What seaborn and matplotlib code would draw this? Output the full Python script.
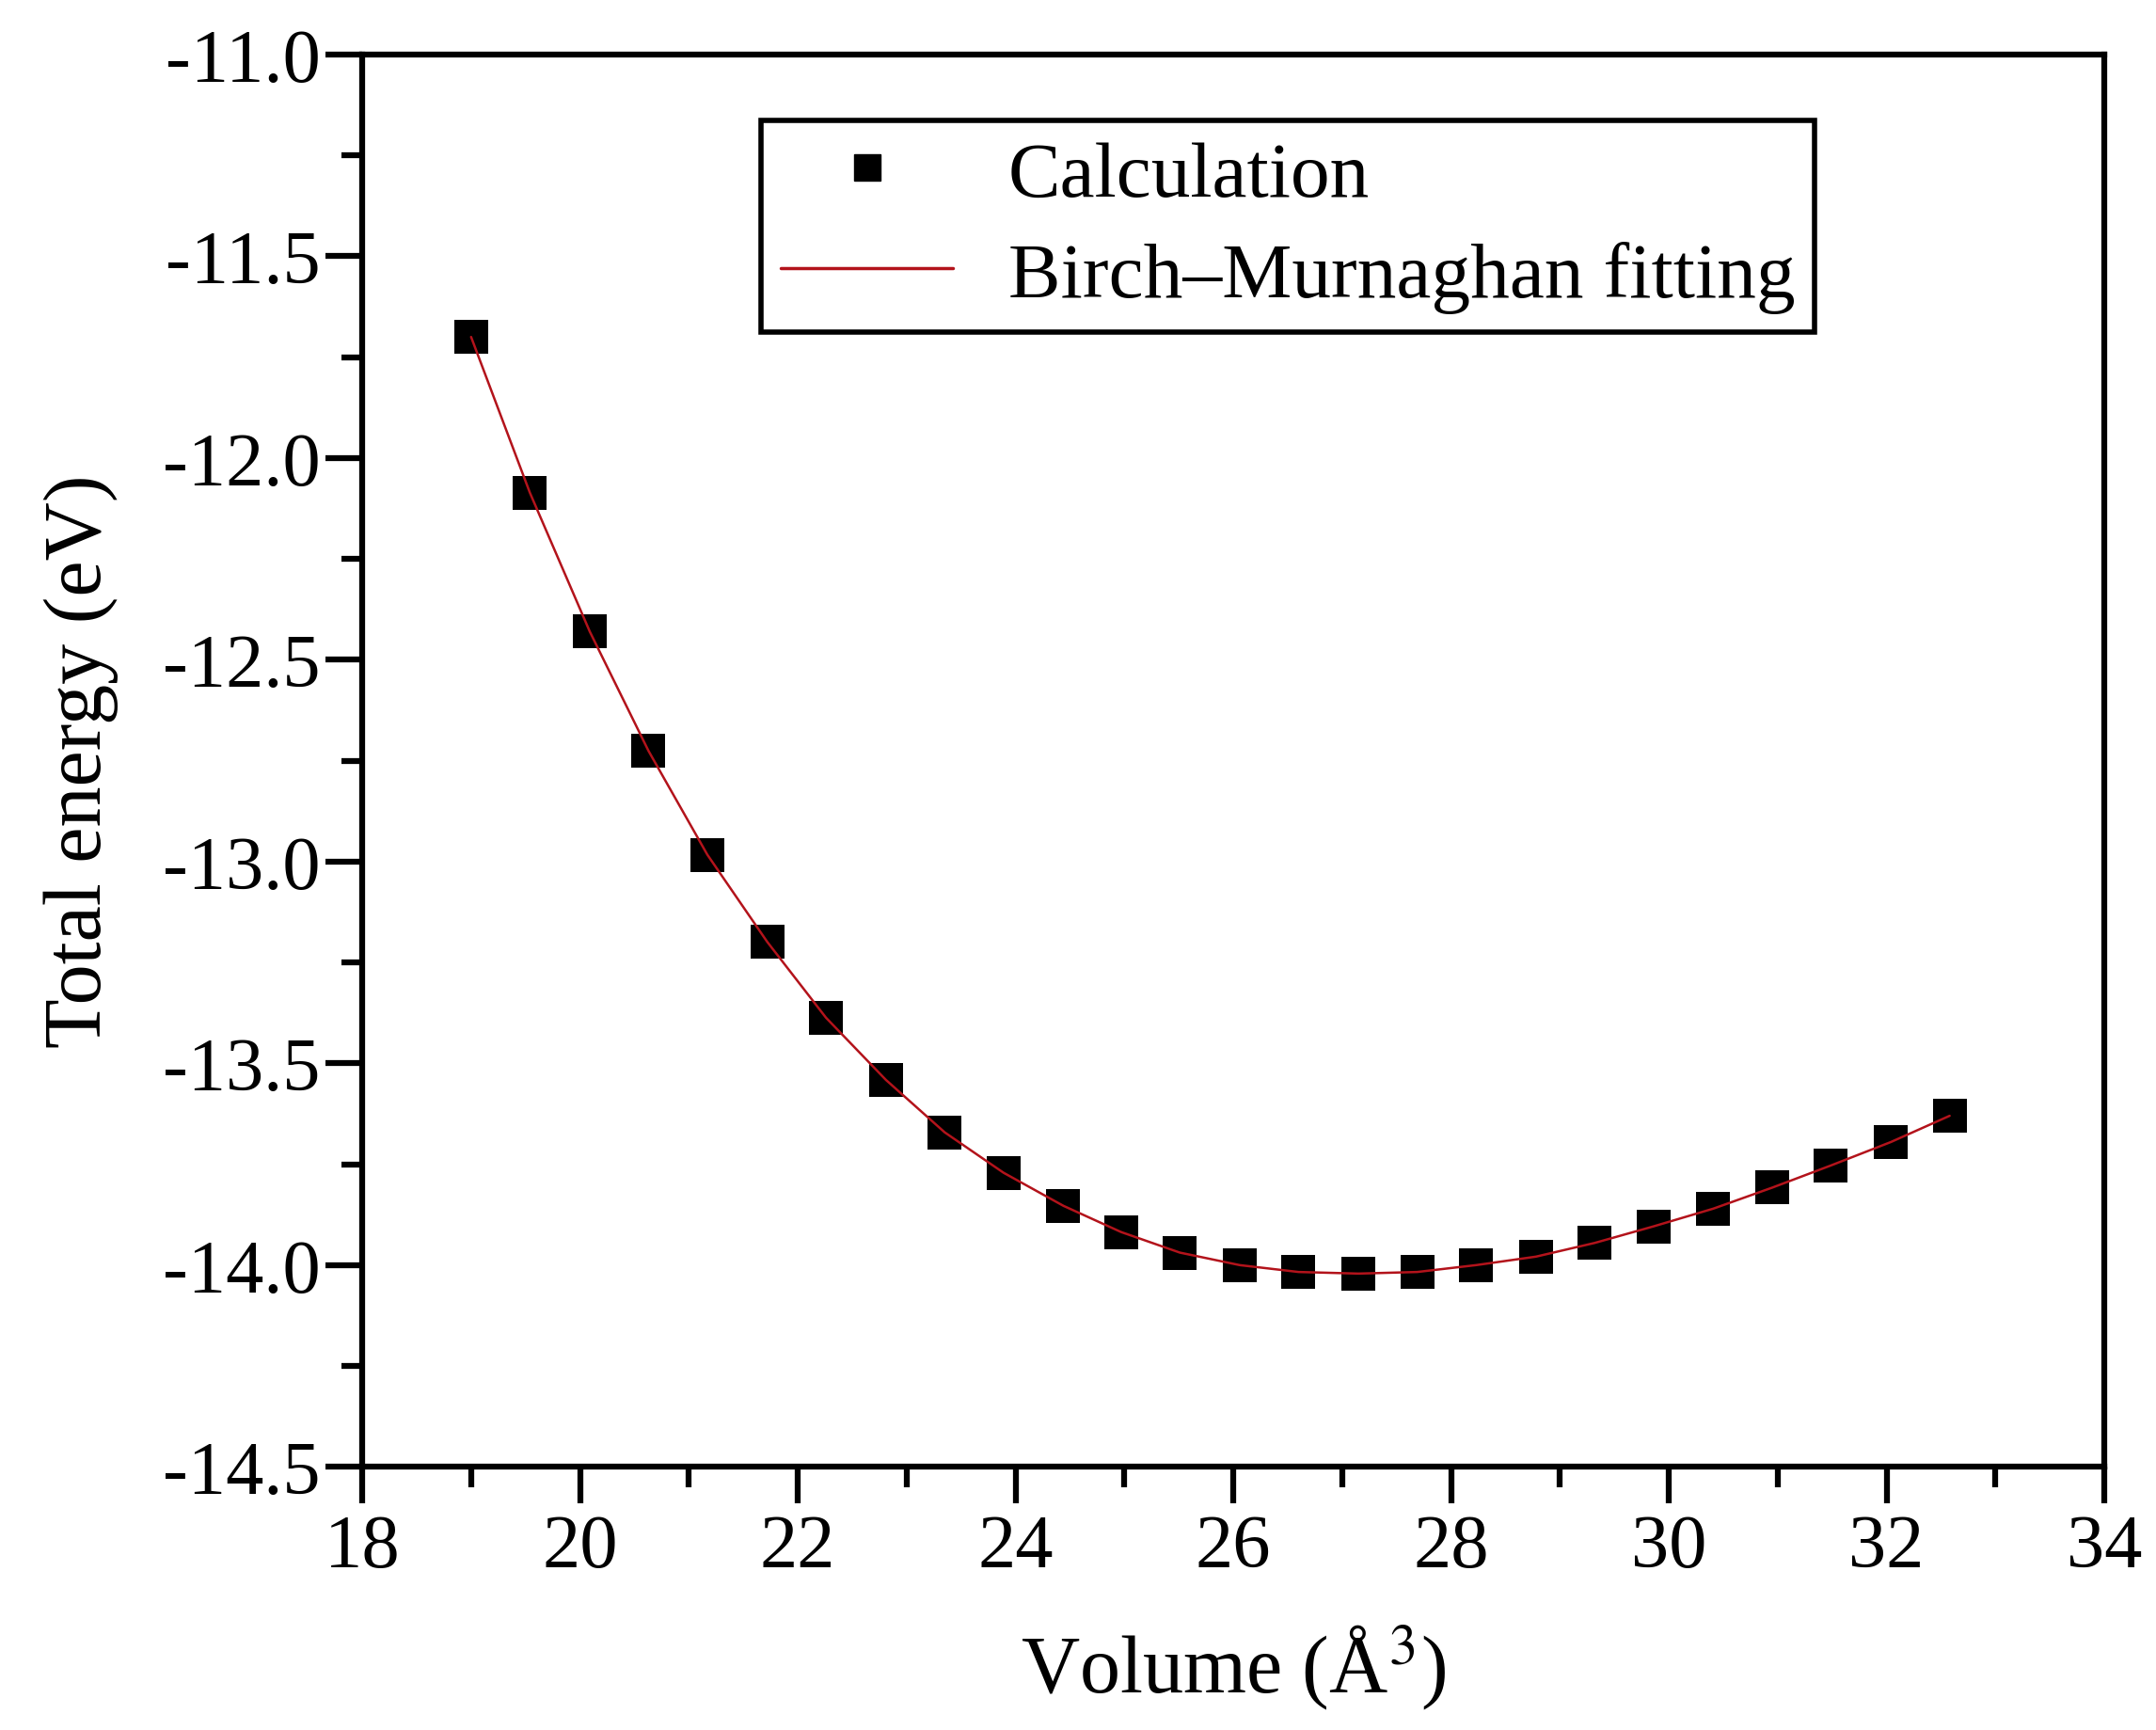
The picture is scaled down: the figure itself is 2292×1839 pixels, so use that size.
import numpy as np
import pandas as pd
import seaborn as sns
import matplotlib.pyplot as plt
from matplotlib.ticker import MultipleLocator
from matplotlib.lines import Line2D

# Values
volume = [19.00, 19.54, 20.09, 20.63, 21.17, 21.72, 22.26, 22.81, 23.35, 23.89,
          24.44, 24.97, 25.51, 26.06, 26.60, 27.15, 27.69, 28.23, 28.78, 29.32,
          29.86, 30.41, 30.95, 31.49, 32.04, 32.58]
energy = [-11.700, -12.086, -12.430, -12.726, -12.983, -13.199, -13.387, -13.541,
          -13.671, -13.771, -13.853, -13.918, -13.969, -14.000, -14.017, -14.021,
          -14.017, -14.000, -13.979, -13.945, -13.904, -13.860, -13.808, -13.753,
          -13.695, -13.630]

df = pd.DataFrame({"volume": volume, "energy": energy})

sns.set_theme(style="ticks")
plt.rcParams['font.family'] = ['Liberation Serif', 'DejaVu Serif']
plt.rcParams['mathtext.fontset'] = 'stix'
plt.rcParams['text.color'] = 'black'
plt.rcParams['axes.labelcolor'] = 'black'
plt.rcParams['xtick.color'] = 'black'
plt.rcParams['ytick.color'] = 'black'

fig = plt.figure(figsize=(22.92, 18.4), dpi=100)
ax = fig.add_axes([0.168, 0.152, 0.808, 0.816])

red = '#B3131B'
sns.scatterplot(data=df, x="volume", y="energy", marker="s", s=640, color="black",
                edgecolor="black", linewidth=0, ax=ax, zorder=2, legend=False)
sns.lineplot(data=df, x="volume", y="energy", color=red, linewidth=1.8, ax=ax,
             zorder=3, legend=False)

ax.set_xlim(18, 34)
ax.set_ylim(-14.5, -11.0)
ax.xaxis.set_major_locator(MultipleLocator(2))
ax.xaxis.set_minor_locator(MultipleLocator(1))
ax.yaxis.set_major_locator(MultipleLocator(0.5))
ax.yaxis.set_minor_locator(MultipleLocator(0.25))
ax.yaxis.set_major_formatter(plt.FuncFormatter(lambda v, p: f"{v:.1f}"))

for sp in ax.spines.values():
    sp.set_linewidth(4.5)
    sp.set_color('black')
ax.tick_params(axis='both', which='major', direction='out', length=28, width=4.5,
               labelsize=58, top=False, right=False, color='black', labelcolor='black')
ax.tick_params(axis='y', which='major', pad=4)
ax.tick_params(axis='x', which='major', pad=8)
ax.tick_params(axis='both', which='minor', direction='out', length=16, width=4.5,
               top=False, right=False, color='black')

ax.set_xlabel(r"Volume (Å$^3$)", fontsize=62, labelpad=30)
ax.set_ylabel("Total energy (eV)", fontsize=62, labelpad=34)

handles = [
    Line2D([], [], marker='s', linestyle='none', color='black', markersize=20),
    Line2D([], [], color=red, linewidth=2.5),
]
leg = ax.legend(handles, ["Calculation", "Birch\u2013Murnaghan fitting"],
                loc='upper left', bbox_to_anchor=(0.229, 0.953), fontsize=60,
                frameon=True, fancybox=False, framealpha=1, edgecolor='black',
                handlelength=2.2, handletextpad=0.7, borderpad=0.25,
                labelspacing=0.36, borderaxespad=0)
leg.get_frame().set_linewidth(4)

fig.savefig("out.png", dpi=100, facecolor='white')
